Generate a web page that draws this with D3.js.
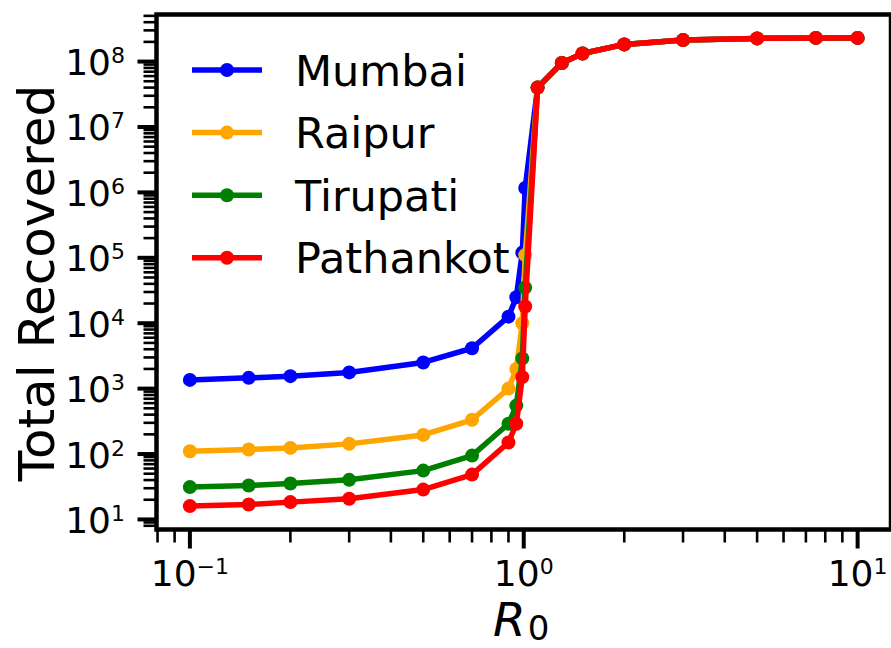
<!DOCTYPE html>
<html>
<head>
<meta charset="utf-8">
<script src="https://cdn.jsdelivr.net/npm/d3@7"></script>
<style>
  body { margin: 0; background: #fff; }
  svg { display: block; }
  text { font-family: "DejaVu Sans", sans-serif; fill: #000; }
</style>
</head>
<body>
<svg id="chart" width="891" height="648"></svg>
<script>
// Basic reproduction number values used in the sweep
const r0 = [0.1, 0.15, 0.2, 0.3, 0.5, 0.7, 0.9, 0.95, 0.99, 1.01, 1.1, 1.3, 1.5, 2, 3, 5, 7.5, 10];

// Total recovered per city at each R0
const mumbai    = [1360, 1460, 1550, 1770, 2510, 4140, 12600, 25000, 120000, 1170000, 4.0e7, 9.5e7, 1.33e8, 1.83e8, 2.13e8, 2.26e8, 2.3e8, 2.3e8];
const raipur    = [110, 117, 124, 143, 196, 334, 1000, 2000, 10000, 110000, 4.0e7, 9.5e7, 1.33e8, 1.83e8, 2.13e8, 2.26e8, 2.3e8, 2.3e8];
const tirupati  = [31.2, 33, 35.4, 40.3, 55.8, 94.6, 290, 550, 2900, 35000, 4.0e7, 9.5e7, 1.33e8, 1.83e8, 2.13e8, 2.26e8, 2.3e8, 2.3e8];
const pathankot = [16.0, 16.9, 18.4, 20.7, 28.6, 48.5, 150, 290, 1500, 18000, 4.0e7, 9.5e7, 1.33e8, 1.83e8, 2.13e8, 2.26e8, 2.3e8, 2.3e8];

const seriesNames  = ["Mumbai", "Raipur", "Tirupati", "Pathankot"];
const seriesValues = [mumbai, raipur, tirupati, pathankot];
const seriesColors = ["#0000ff", "#ffa500", "#008000", "#ff0000"];

// Tick decades
const xMajorExp = [-1, 0, 1];
const yMajorExp = [1, 2, 3, 4, 5, 6, 7, 8];

const svg = d3.select("#chart");
const plot = { left: 156.5, right: 891, top: 14.5, bottom: 529.5 };

// Log domains padded by 5% of the log span on each side
function paddedLogDomain(values) {
  const lo = Math.log10(d3.min(values)), hi = Math.log10(d3.max(values));
  const pad = (hi - lo) * 0.05;
  return [Math.pow(10, lo - pad), Math.pow(10, hi + pad)];
}

const x = d3.scaleLog().domain(paddedLogDomain(r0)).range([plot.left, plot.right]);
const y = d3.scaleLog().domain(paddedLogDomain(seriesValues.flat())).range([plot.bottom, plot.top]);

function minorTicks(scale, exps) {
  const [d0, d1] = scale.domain();
  const out = [];
  for (let e = exps[0] - 2; e <= exps[exps.length - 1] + 1; e++) {
    for (let m = 2; m <= 9; m++) {
      const v = m * Math.pow(10, e);
      if (v >= d0 && v <= d1) out.push(v);
    }
  }
  return out;
}

const majorLen = 19, minorLen = 13;
const ticks = svg.append("g");

// x ticks
ticks.selectAll("line.xminor").data(minorTicks(x, xMajorExp)).join("line")
  .attr("x1", d => x(d)).attr("x2", d => x(d))
  .attr("y1", plot.bottom).attr("y2", plot.bottom + minorLen)
  .attr("stroke", "#000").attr("stroke-width", 2.6);
ticks.selectAll("line.xmajor").data(xMajorExp).join("line")
  .attr("x1", e => x(Math.pow(10, e))).attr("x2", e => x(Math.pow(10, e)))
  .attr("y1", plot.bottom).attr("y2", plot.bottom + majorLen)
  .attr("stroke", "#000").attr("stroke-width", 4);

// y ticks
ticks.selectAll("line.yminor").data(minorTicks(y, yMajorExp)).join("line")
  .attr("y1", d => y(d)).attr("y2", d => y(d))
  .attr("x1", plot.left).attr("x2", plot.left - minorLen)
  .attr("stroke", "#000").attr("stroke-width", 2.6);
ticks.selectAll("line.ymajor").data(yMajorExp).join("line")
  .attr("y1", e => y(Math.pow(10, e))).attr("y2", e => y(Math.pow(10, e)))
  .attr("x1", plot.left).attr("x2", plot.left - majorLen)
  .attr("stroke", "#000").attr("stroke-width", 4);

// Power-of-ten tick labels
function powerLabel(g, e) {
  g.append("tspan").text("10").attr("font-size", 36);
  g.append("tspan").text(e < 0 ? "\u2212" + Math.abs(e) : String(e))
    .attr("font-size", 22).attr("dy", -12);
}
xMajorExp.forEach(e => {
  const t = svg.append("text")
    .attr("x", x(Math.pow(10, e))).attr("y", 586)
    .attr("text-anchor", "middle");
  powerLabel(t, e);
});
yMajorExp.forEach(e => {
  const t = svg.append("text")
    .attr("x", 125).attr("y", y(Math.pow(10, e)) + 13.5)
    .attr("text-anchor", "end");
  powerLabel(t, e);
});

// Axis titles
svg.append("text")
  .attr("transform", `translate(54,${(plot.top + plot.bottom) / 2 + 11}) rotate(-90)`)
  .attr("text-anchor", "middle").attr("font-size", 50)
  .text("Total Recovered");

const xl = svg.append("text").attr("x", 493).attr("y", 636);
xl.append("tspan").text("R").attr("font-size", 47).attr("font-style", "italic");
xl.append("tspan").text("0").attr("font-size", 34).attr("dy", 4).attr("dx", 2);

// Series lines and markers
const line = d3.line().x((d, i) => x(r0[i])).y(d => y(d));
const plotG = svg.append("g");
seriesValues.forEach((vals, s) => {
  const g = plotG.append("g");
  g.append("path").datum(vals).attr("d", line)
    .attr("fill", "none").attr("stroke", seriesColors[s])
    .attr("stroke-width", 5.5).attr("stroke-linejoin", "round");
  g.selectAll("circle").data(vals).join("circle")
    .attr("cx", (d, i) => x(r0[i])).attr("cy", d => y(d))
    .attr("r", 7).attr("fill", seriesColors[s]);
});

// Frame
svg.append("rect")
  .attr("x", plot.left).attr("y", plot.top)
  .attr("width", plot.right - plot.left).attr("height", plot.bottom - plot.top)
  .attr("fill", "none").attr("stroke", "#000").attr("stroke-width", 4.5);

// Legend
const legend = svg.append("g");
seriesNames.forEach((name, s) => {
  const cy = 70 + s * 62.6;
  legend.append("line").attr("x1", 192).attr("x2", 262).attr("y1", cy).attr("y2", cy)
    .attr("stroke", seriesColors[s]).attr("stroke-width", 5.5);
  legend.append("circle").attr("cx", 227).attr("cy", cy).attr("r", 7).attr("fill", seriesColors[s]);
  legend.append("text").attr("x", 295).attr("y", cy + 15.5)
    .attr("font-size", 43).text(name);
});
</script>
</body>
</html>
